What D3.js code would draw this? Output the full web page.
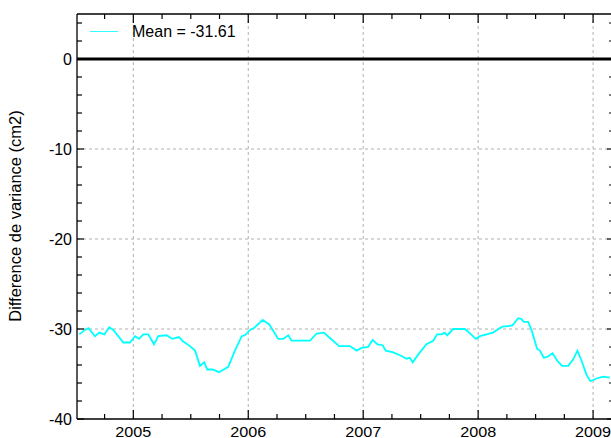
<!DOCTYPE html>
<html>
<head>
<meta charset="UTF-8">
<title>variance</title>
<script src="https://cdn.jsdelivr.net/npm/d3@7"></script>
<style>
  body { margin: 0; background: #fff; }
  text { font-family: "Liberation Sans", Arial, sans-serif; }
</style>
</head>
<body>
<svg id="chart" width="611" height="438"></svg>
<script>
// decimal years and values
const years = [2004.530, 2004.580, 2004.609, 2004.667, 2004.704, 2004.748, 2004.791, 2004.826,
  2004.913, 2004.971, 2005.015, 2005.050, 2005.087, 2005.130, 2005.180, 2005.217, 2005.290,
  2005.339, 2005.397, 2005.435, 2005.493, 2005.537, 2005.580, 2005.617, 2005.643, 2005.690,
  2005.745, 2005.826, 2005.884, 2005.943, 2005.971, 2006.015, 2006.050, 2006.125, 2006.183,
  2006.261, 2006.304, 2006.348, 2006.377, 2006.450, 2006.537, 2006.595, 2006.658, 2006.710,
  2006.791, 2006.884, 2006.943, 2006.986, 2007.043, 2007.082, 2007.125, 2007.169, 2007.197,
  2007.261, 2007.334, 2007.377, 2007.406, 2007.430, 2007.493, 2007.551, 2007.609, 2007.643,
  2007.682, 2007.710, 2007.730, 2007.783, 2007.884, 2007.913, 2007.980, 2008.015, 2008.073,
  2008.130, 2008.189, 2008.217, 2008.247, 2008.299, 2008.348, 2008.377, 2008.397, 2008.435,
  2008.464, 2008.513, 2008.537, 2008.571, 2008.600, 2008.647, 2008.687, 2008.730, 2008.783,
  2008.826, 2008.864, 2008.899, 2008.943, 2008.977, 2009.030, 2009.087, 2009.145];
const diffVar = [-30.6, -30.1, -29.9, -30.8, -30.4, -30.6, -29.8, -30.1,
  -31.5, -31.5, -30.8, -31.1, -30.6, -30.6, -31.7, -30.8, -30.7,
  -31.1, -30.9, -31.4, -31.9, -32.4, -34.1, -33.7, -34.5, -34.5,
  -34.8, -34.2, -32.4, -30.8, -30.7, -30.1, -29.9, -29.0, -29.5,
  -31.1, -31.1, -30.7, -31.3, -31.3, -31.3, -30.5, -30.4, -31.0,
  -31.9, -31.9, -32.4, -32.1, -32.0, -31.2, -31.7, -31.8, -32.4,
  -32.6, -33.0, -33.3, -33.2, -33.7, -32.6, -31.7, -31.3, -30.6,
  -30.6, -30.4, -30.7, -30.0, -30.0, -30.3, -31.1, -30.8, -30.6,
  -30.4, -29.9, -29.7, -29.7, -29.6, -28.8, -28.9, -29.2, -29.2,
  -30.1, -32.2, -32.4, -33.2, -33.1, -32.7, -33.5, -34.1, -34.1,
  -33.4, -32.4, -33.5, -35.1, -35.8, -35.5, -35.3, -35.4];
const yearTicks = [2005, 2006, 2007, 2008, 2009];
const yTicks = [0, -10, -20, -30, -40];
const meanLabel = "Mean = -31.61";
const yTitle = "Difference de variance (cm2)";

const svg = d3.select("#chart");
const m = {left: 77, right: 614, top: 14, bottom: 419};

const x = d3.scaleLinear().domain([2004.51, 2009.182]).range([m.left, m.right]);
const y = d3.scaleLinear().domain([-40, 5]).range([m.bottom, m.top]);

const quarters = d3.range(2004.5, 2009.25, 0.25).filter(d => x(d) > m.left && x(d) < m.right);
const yMinor = d3.range(-40, 5.01, 2);

// grid
svg.append("g").selectAll("line").data(yearTicks).join("line")
  .attr("x1", d => x(d)).attr("x2", d => x(d))
  .attr("y1", m.top).attr("y2", m.bottom)
  .attr("stroke", "#b0b0b0").attr("stroke-dasharray", "3,3");
svg.append("g").selectAll("line").data([-10, -20, -30]).join("line")
  .attr("x1", m.left).attr("x2", m.right)
  .attr("y1", d => y(d)).attr("y2", d => y(d))
  .attr("stroke", "#b0b0b0").attr("stroke-dasharray", "3,3");

// zero line
svg.append("line")
  .attr("x1", m.left).attr("x2", m.right)
  .attr("y1", y(0)).attr("y2", y(0))
  .attr("stroke", "#000").attr("stroke-width", 3);

// data line
const line = d3.line().x((d, i) => x(years[i])).y(d => y(d));
svg.append("path")
  .datum(diffVar)
  .attr("d", line)
  .attr("fill", "none")
  .attr("stroke", "#00ffff")
  .attr("stroke-width", 1.8);

// axes, ticks pointing inward
const axisLine = (x1, y1, x2, y2) => svg.append("line")
  .attr("x1", x1).attr("y1", y1).attr("x2", x2).attr("y2", y2)
  .attr("stroke", "#000").attr("stroke-width", 1.3);
axisLine(m.left, m.top, m.right, m.top);
axisLine(m.left, m.bottom, m.right, m.bottom);
axisLine(m.left, m.top, m.left, m.bottom);
axisLine(m.right, m.top, m.right, m.bottom);

const isMajorX = d => Math.abs(d - Math.round(d)) < 1e-6;
const ticks = svg.append("g").attr("stroke", "#000").attr("stroke-width", 1.2);
ticks.selectAll(".bt").data(quarters).join("line")
  .attr("x1", d => x(d)).attr("x2", d => x(d))
  .attr("y1", m.bottom).attr("y2", d => m.bottom - (isMajorX(d) ? 9 : 5));
ticks.selectAll(".tt").data(quarters).join("line")
  .attr("x1", d => x(d)).attr("x2", d => x(d))
  .attr("y1", m.top).attr("y2", d => m.top + (isMajorX(d) ? 9 : 5));
ticks.selectAll(".lt").data(yMinor).join("line")
  .attr("y1", d => y(d)).attr("y2", d => y(d))
  .attr("x1", m.left).attr("x2", d => m.left + (d % 10 === 0 ? 7 : 5));
ticks.selectAll(".rt").data(yMinor).join("line")
  .attr("y1", d => y(d)).attr("y2", d => y(d))
  .attr("x1", m.right).attr("x2", d => m.right - (d % 10 === 0 ? 7 : 5));

// tick labels
svg.append("g").selectAll("text").data(yearTicks).join("text")
  .attr("x", d => x(d)).attr("y", 436.5)
  .attr("text-anchor", "middle")
  .style("font-size", "15px")
  .style("font-weight", "500")
  .attr("textLength", 36).attr("lengthAdjust", "spacingAndGlyphs")
  .text(d3.format("d"));
svg.append("g").selectAll("text").data(yTicks).join("text")
  .attr("x", 72).attr("y", d => y(d)).attr("dy", "0.35em")
  .attr("text-anchor", "end")
  .style("font-size", "16px")
  .text(d => d);

// y title
svg.append("text")
  .attr("transform", `translate(21,216) rotate(-90)`)
  .attr("text-anchor", "middle")
  .style("font-size", "16.5px")
  .text(yTitle);

// legend
svg.append("line")
  .attr("x1", 90).attr("x2", 118).attr("y1", 31.5).attr("y2", 31.5)
  .attr("stroke", "#00ffff").attr("stroke-width", 0.8);
svg.append("text")
  .attr("x", 132).attr("y", 37)
  .style("font-size", "16px")
  .text(meanLabel);
</script>
</body>
</html>
